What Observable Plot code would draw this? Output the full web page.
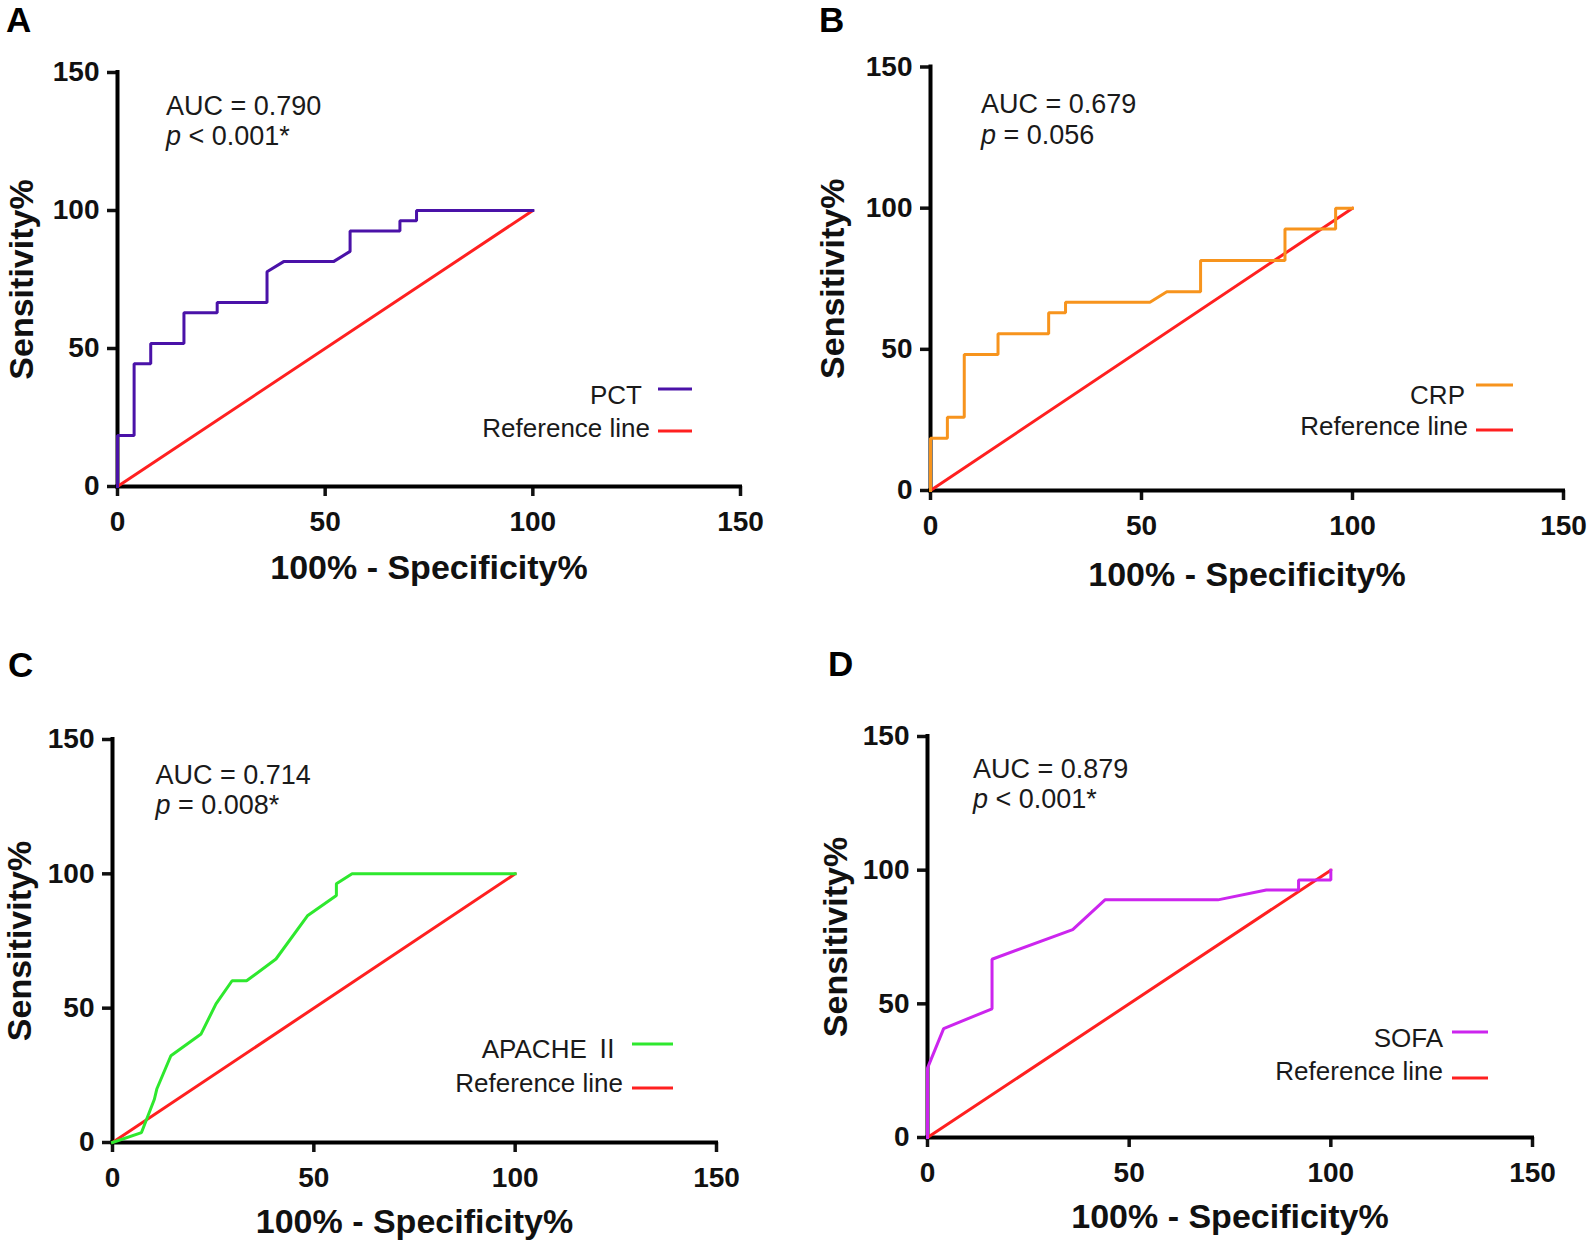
<!DOCTYPE html>
<html><head><meta charset="utf-8">
<script src="https://cdn.jsdelivr.net/npm/d3@7"></script>
<script src="https://cdn.jsdelivr.net/npm/@observablehq/plot@0.6"></script>
<style>
html,body{margin:0;padding:0;background:#fff;}
#chart{position:relative;width:1594px;height:1245px;overflow:hidden;font-family:"Liberation Sans",Arial,sans-serif;}
.panel{position:absolute;}
</style></head><body><div id="chart"></div>
<script>
// ---------- data ----------
const xTicks = [0, 50, 100, 150];
const yTicks = [0, 50, 100, 150];
const panelLetters = ["A", "B", "C", "D"];
const seriesNames = ["PCT", "CRP", "APACHE Ⅱ", "SOFA"];
const aucLabels = ["AUC = 0.790", "AUC = 0.679", "AUC = 0.714", "AUC = 0.879"];
const pSymbol = "p";
const pLabels = [" < 0.001*", " = 0.056", " = 0.008*", " < 0.001*"];
const refName = "Reference line";
const xTitle = "100% - Specificity%";
const yTitle = "Sensitivity%";

const refX = [0, 100];
const refY = [0, 100];

const pctX = [0, 0, 4, 4, 8, 8, 16, 16, 24, 24, 36, 36, 40, 52, 56, 56, 68, 68, 72, 72, 100];
const pctY = [0, 18.52, 18.52, 44.44, 44.44, 51.85, 51.85, 62.96, 62.96, 66.67, 66.67, 77.78, 81.48, 81.48, 85.19, 92.59, 92.59, 96.3, 96.3, 100, 100];

const crpX = [0, 0, 4, 4, 8, 8, 16, 16, 28, 28, 32, 32, 52, 56, 64, 64, 84, 84, 96, 96, 100];
const crpY = [0, 18.52, 18.52, 25.93, 25.93, 48.15, 48.15, 55.56, 55.56, 62.96, 62.96, 66.67, 66.67, 70.37, 70.37, 81.48, 81.48, 92.59, 92.59, 100, 100];

const apacheX = [0, 7.2, 10.4, 11, 14.5, 22, 25.7, 29.7, 33.3, 40.6, 48.5, 55.6, 55.6, 59.5, 100];
const apacheY = [0, 3.7, 16.1, 19.9, 32.3, 40.4, 51.6, 60.2, 60.2, 68.3, 84.5, 91.9, 96.3, 100, 100];

const sofaX = [0, 0, 4, 16, 16, 36, 44, 72, 84, 92, 92, 100, 100];
const sofaY = [0, 25.93, 40.74, 48.15, 66.67, 77.78, 88.89, 88.89, 92.59, 92.59, 96.3, 96.3, 100];

const seriesX = [pctX, crpX, apacheX, sofaX];
const seriesY = [pctY, crpY, apacheY, sofaY];

// ---------- styles / layout ----------
const seriesColors = ["#4a12a8", "#f7941d", "#2ee82e", "#cc25ee"];
const refColor = "#ff2020";
const FONT = "'Liberation Sans', Arial, Helvetica, sans-serif";
const CJK = "'Noto Sans CJK SC', 'Liberation Sans', sans-serif";

const layout = [
  {left: 0,   top: 0,   w: 797, h: 620, ml: 117, mt: 72,  mr: 57, mb: 134,
   letter: [6, 32], auc: [49, 43, 73], leg: {sx: -98, sy: -82, lx1: -82, lx2: -48, ly: -97, rx: -90, ry: -49, rly: -55},
   xt: 68, yt: -95},
  {left: 797, top: 0,   w: 797, h: 620, ml: 133, mt: 66.5, mr: 31, mb: 130,
   letter: [22, 32], auc: [51, 46.5, 77.5], leg: {sx: -98, sy: -86, lx1: -87, lx2: -50, ly: -105, rx: -95, ry: -55, rly: -60},
   xt: 71, yt: -97},
  {left: 0,   top: 620, w: 797, h: 625, ml: 112, mt: 119, mr: 81, mb: 103,
   letter: [8, 57], auc: [43.5, 45, 75], leg: {sx: -96, sy: -84, lx1: -84, lx2: -43, ly: -98, rx: -93, ry: -50, rly: -54},
   xt: 66, yt: -92},
  {left: 797, top: 620, w: 797, h: 625, ml: 130, mt: 116, mr: 62, mb: 108,
   letter: [31, 56], auc: [46, 42.4, 72.4], leg: {sx: -89, sy: -90, lx1: -80, lx2: -44, ly: -105, rx: -89, ry: -57, rly: -59},
   xt: 66, yt: -91}
];

const chart = document.getElementById("chart");

function appendMixed(textSel, str) {
  // Roman numerals rendered with a CJK font, as in the original figure
  const parts = str.split(/([\u2160-\u217F])/);
  parts.forEach(p => {
    if (!p) return;
    const t = textSel.append("tspan").text(p);
    if (/[\u2160-\u217F]/.test(p)) t.attr("font-family", CJK);
  });
}

layout.forEach((L, i) => {
  const rows = seriesX[i].map((x, k) => ({x, y: seriesY[i][k]}));
  const refRows = refX.map((x, k) => ({x, y: refY[k]}));

  const svg = Plot.plot({
    width: L.w, height: L.h,
    marginLeft: L.ml, marginTop: L.mt, marginRight: L.mr, marginBottom: L.mb,
    x: {domain: [0, 150]},
    y: {domain: [0, 150]},
    style: {fontFamily: FONT, fontSize: "28px", fontWeight: "bold", color: "#111", background: "transparent", overflow: "visible"},
    marks: [
      Plot.axisX({ticks: xTicks, tickSize: 10, tickPadding: 15, strokeWidth: 3.5, label: null, fontSize: 28, fontWeight: "bold"}),
      Plot.axisY({ticks: yTicks, tickSize: 10, tickPadding: 8, strokeWidth: 3.5, label: null, fontSize: 28, fontWeight: "bold"}),
      Plot.ruleY([0], {stroke: "#000", strokeWidth: 4, strokeLinecap: "square"}),
      Plot.ruleX([0], {stroke: "#000", strokeWidth: 4, strokeLinecap: "square"}),
      Plot.line(refRows, {x: "x", y: "y", stroke: refColor, strokeWidth: 3}),
      Plot.line(rows, {x: "x", y: "y", stroke: seriesColors[i], strokeWidth: 3, strokeLinejoin: "miter", strokeLinecap: "square"}),
      Plot.text([xTitle], {frameAnchor: "bottom", dy: L.xt, lineAnchor: "top", textAnchor: "middle", fontSize: 34, fontWeight: "bold", fill: "#111"}),
      Plot.text([yTitle], {frameAnchor: "left", dx: L.yt, rotate: -90, lineAnchor: "middle", textAnchor: "middle", fontSize: 34, fontWeight: "bold", fill: "#111"})
    ]
  });

  const s = d3.select(svg);
  const fx0 = L.ml, fy0 = L.mt, fx1 = L.w - L.mr, fy1 = L.h - L.mb;

  // panel letter
  s.append("text").attr("x", L.letter[0]).attr("y", L.letter[1]).attr("text-anchor", "start")
    .attr("font-family", FONT).attr("font-size", 35).attr("font-weight", "bold").attr("fill", "#000")
    .text(panelLetters[i]);

  // AUC annotation
  const g = s.append("g").attr("font-family", FONT).attr("font-weight", "normal").attr("font-size", 27)
    .attr("fill", "#1a1a1a").attr("text-anchor", "start");
  g.append("text").attr("x", fx0 + L.auc[0]).attr("y", fy0 + L.auc[1]).text(aucLabels[i]);
  const pt = g.append("text").attr("x", fx0 + L.auc[0]).attr("y", fy0 + L.auc[2]);
  pt.append("tspan").attr("font-style", "italic").text(pSymbol);
  pt.append("tspan").text(pLabels[i]);

  // legend
  const lg = s.append("g").attr("font-family", FONT).attr("font-weight", "normal").attr("font-size", 26).attr("fill", "#1a1a1a");
  const st = lg.append("text").attr("x", fx1 + L.leg.sx).attr("y", fy1 + L.leg.sy).attr("text-anchor", "end");
  appendMixed(st, seriesNames[i]);
  lg.append("line").attr("x1", fx1 + L.leg.lx1).attr("x2", fx1 + L.leg.lx2)
    .attr("y1", fy1 + L.leg.ly).attr("y2", fy1 + L.leg.ly).attr("stroke", seriesColors[i]).attr("stroke-width", 3);
  lg.append("text").attr("x", fx1 + L.leg.rx).attr("y", fy1 + L.leg.ry).attr("text-anchor", "end").text(refName);
  lg.append("line").attr("x1", fx1 + L.leg.lx1).attr("x2", fx1 + L.leg.lx2)
    .attr("y1", fy1 + L.leg.rly).attr("y2", fy1 + L.leg.rly).attr("stroke", refColor).attr("stroke-width", 3);

  const div = document.createElement("div");
  div.className = "panel";
  div.style.left = L.left + "px";
  div.style.top = L.top + "px";
  div.appendChild(svg);
  chart.appendChild(div);
});
</script>
</body></html>
